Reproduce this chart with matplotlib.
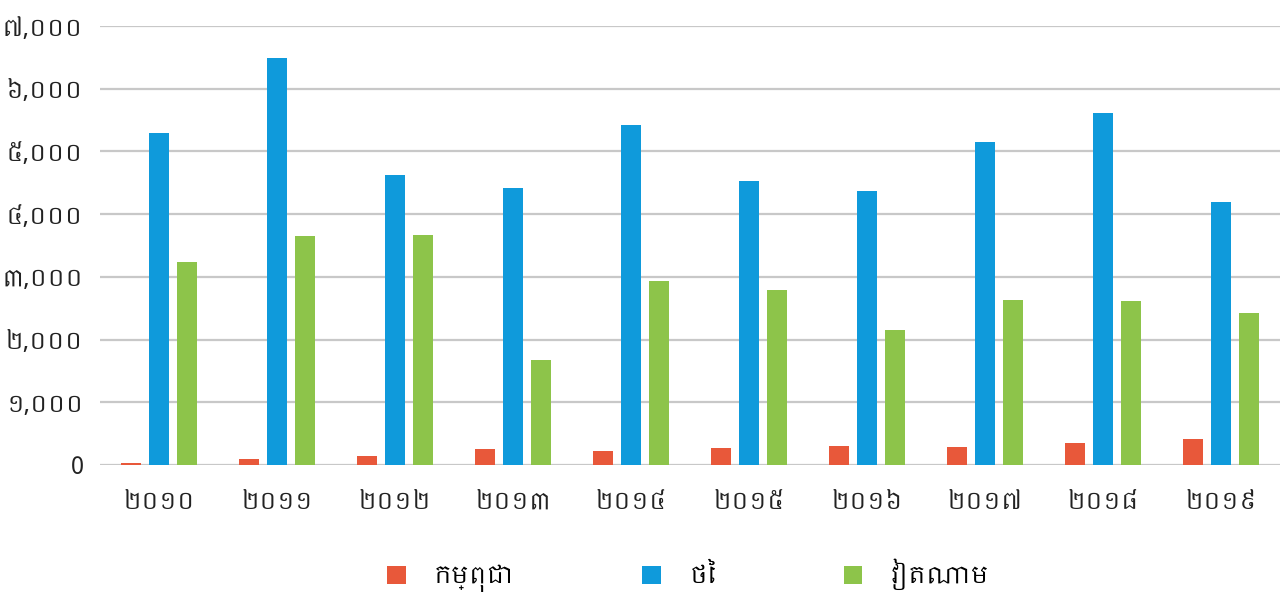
import matplotlib
matplotlib.use("Agg")
import matplotlib.pyplot as plt
from matplotlib import font_manager
from matplotlib.ft2font import FT2Font
import numpy as np

years = ["២០១០", "២០១១", "២០១២", "២០១៣", "២០១៤", "២០១៥", "២០១៦", "២០១៧", "២០១៨", "២០១៩"]
series_names = ["កម្ពុជា", "ថៃ", "វៀតណាម"]
cambodia = [35, 100, 140, 255, 225, 275, 300, 290, 345, 415]
thailand = [5300, 6490, 4625, 4420, 5425, 4530, 4370, 5150, 5615, 4195]
vietnam = [3240, 3650, 3665, 1675, 2935, 2790, 2155, 2630, 2615, 2425]
y_ticks = [0, 1000, 2000, 3000, 4000, 5000, 6000, 7000]
y_labels = ["0", "១,០០០", "២,០០០", "៣,០០០", "៤,០០០", "៥,០០០", "៦,០០០", "៧,០០០"]

colors = ["#E8583A", "#0F9ADB", "#8DC44A"]


# look for installed fonts that cover Khmer, prefer proportional ones
def find_khmer_font():
    found = []
    for f in font_manager.fontManager.ttflist:
        try:
            if 0x1780 in FT2Font(f.fname).get_charmap():
                found.append(f.name)
        except Exception:
            pass
    if not found:
        return None
    found.sort(key=lambda n: ("Khmer" not in n, "Mono" in n, "Serif" in n, n))
    return found[0]


khmer = find_khmer_font()
families = [khmer, "DejaVu Sans"] if khmer else ["DejaVu Sans"]
plt.rcParams["font.family"] = families

fig = plt.figure(figsize=(12.86, 6.01), dpi=100)
ax = fig.add_axes([0.0778, 0.2263, 0.9172, 0.7304])

x = np.arange(len(years))
w = 0.17
off = 0.237
for i, (vals, name) in enumerate(zip([cambodia, thailand, vietnam], series_names)):
    ax.bar(x + (i - 1) * off, vals, width=w, color=colors[i], label=name, zorder=3)

ax.set_xlim(-0.5, len(years) - 0.5)
ax.set_ylim(0, 7000)
ax.set_yticks(y_ticks)
ax.set_yticklabels(y_labels)
ax.set_xticks(x)
ax.set_xticklabels(years)
ax.tick_params(axis="both", length=0, labelsize=17, colors="#222222")
ax.tick_params(axis="x", pad=18)
ax.tick_params(axis="y", pad=12)
ax.grid(axis="y", color="#c8c8c8", linewidth=1.6, zorder=0)
for s in ax.spines.values():
    s.set_visible(False)

fig.legend(loc="center", bbox_to_anchor=(0.535, 0.043), ncol=3, frameon=False,
           fontsize=17, handlelength=0.8, handleheight=0.8, handletextpad=1.2,
           columnspacing=5.4)

fig.savefig("out.png", dpi=100)
